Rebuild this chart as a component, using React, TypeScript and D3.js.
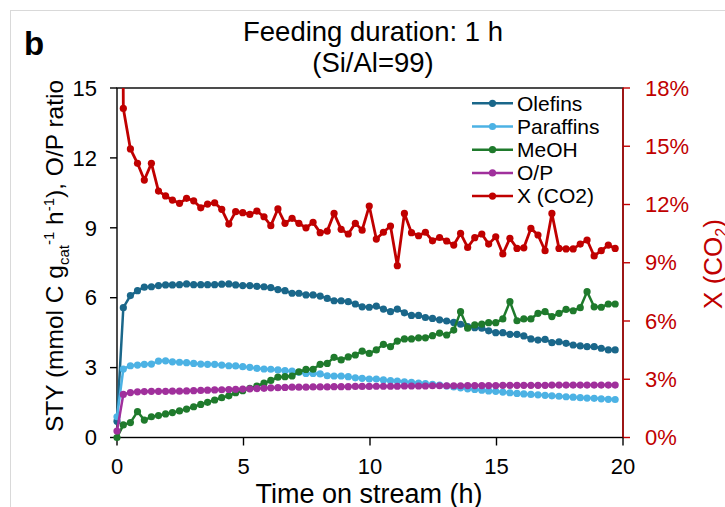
import React from "react";
import * as d3 from "d3";

const times = [0, 0.25, 0.53, 0.81, 1.08, 1.36, 1.64, 1.92, 2.19, 2.47, 2.75, 3.03, 3.31, 3.58, 3.86, 4.14, 4.42, 4.69, 4.97, 5.25, 5.53, 5.81, 6.08, 6.36, 6.64, 6.92, 7.19, 7.47, 7.75, 8.03, 8.31, 8.58, 8.86, 9.14, 9.42, 9.69, 9.97, 10.25, 10.53, 10.81, 11.08, 11.36, 11.64, 11.92, 12.19, 12.47, 12.75, 13.03, 13.31, 13.58, 13.86, 14.14, 14.42, 14.69, 14.97, 15.25, 15.53, 15.81, 16.08, 16.36, 16.64, 16.92, 17.19, 17.47, 17.75, 18.03, 18.31, 18.58, 18.86, 19.14, 19.42, 19.69];

const olefins = [0.7, 5.57, 6.09, 6.3, 6.45, 6.47, 6.52, 6.55, 6.55, 6.56, 6.59, 6.56, 6.56, 6.56, 6.56, 6.58, 6.59, 6.55, 6.52, 6.52, 6.49, 6.47, 6.43, 6.35, 6.3, 6.19, 6.19, 6.12, 6.12, 6.07, 5.97, 5.87, 5.87, 5.83, 5.73, 5.61, 5.59, 5.64, 5.51, 5.4, 5.51, 5.35, 5.24, 5.24, 5.15, 5.11, 5.05, 5.0, 4.94, 4.86, 4.76, 4.71, 4.69, 4.58, 4.5, 4.5, 4.43, 4.43, 4.36, 4.23, 4.18, 4.21, 4.07, 4.11, 4.04, 3.97, 3.93, 3.9, 3.9, 3.83, 3.76, 3.76];

const paraffins = [0.89, 2.94, 3.08, 3.11, 3.14, 3.15, 3.28, 3.29, 3.25, 3.23, 3.21, 3.18, 3.15, 3.14, 3.14, 3.11, 3.08, 3.07, 3.04, 3.01, 2.97, 2.94, 2.93, 2.9, 2.87, 2.85, 2.8, 2.75, 2.75, 2.73, 2.65, 2.64, 2.64, 2.61, 2.56, 2.54, 2.51, 2.51, 2.47, 2.44, 2.42, 2.39, 2.37, 2.34, 2.31, 2.28, 2.25, 2.21, 2.17, 2.13, 2.09, 2.06, 2.03, 2.0, 1.98, 1.95, 1.92, 1.89, 1.87, 1.85, 1.83, 1.81, 1.79, 1.77, 1.75, 1.73, 1.71, 1.69, 1.68, 1.66, 1.64, 1.63];

const meoh = [0.0, 0.54, 0.64, 1.11, 0.75, 0.89, 0.94, 1.01, 1.07, 1.14, 1.22, 1.32, 1.42, 1.51, 1.61, 1.71, 1.79, 1.92, 2.01, 2.11, 2.21, 2.33, 2.45, 2.59, 2.61, 2.64, 2.82, 2.92, 2.93, 3.14, 3.18, 3.44, 3.33, 3.46, 3.54, 3.71, 3.61, 3.76, 4.0, 3.9, 4.14, 4.23, 4.23, 4.28, 4.28, 4.37, 4.48, 4.4, 4.61, 5.4, 4.69, 4.83, 4.87, 4.93, 4.93, 5.09, 5.83, 5.01, 5.09, 5.09, 5.33, 5.4, 5.19, 5.33, 5.5, 5.44, 5.57, 6.26, 5.61, 5.59, 5.73, 5.73];

const opRatio = [0.28, 1.85, 1.93, 1.96, 1.97, 1.98, 1.98, 1.98, 1.99, 1.99, 2.0, 2.01, 2.02, 2.03, 2.04, 2.05, 2.06, 2.07, 2.08, 2.09, 2.1, 2.11, 2.13, 2.14, 2.15, 2.16, 2.16, 2.16, 2.17, 2.17, 2.17, 2.18, 2.18, 2.18, 2.19, 2.19, 2.19, 2.2, 2.2, 2.2, 2.2, 2.21, 2.21, 2.21, 2.21, 2.22, 2.22, 2.22, 2.22, 2.22, 2.23, 2.23, 2.23, 2.23, 2.23, 2.24, 2.24, 2.24, 2.24, 2.24, 2.24, 2.24, 2.25, 2.25, 2.25, 2.25, 2.25, 2.25, 2.25, 2.25, 2.25, 2.25];

const xco2 = [90, 16.95, 14.86, 14.12, 13.26, 14.12, 12.69, 12.44, 12.23, 12.06, 12.32, 12.19, 11.83, 12.02, 12.09, 11.75, 10.99, 11.63, 11.58, 11.49, 11.66, 11.37, 10.91, 11.77, 11.03, 11.29, 11.03, 10.8, 11.08, 10.55, 10.63, 11.54, 10.72, 10.48, 11.03, 10.68, 11.92, 10.22, 10.57, 10.89, 8.85, 11.54, 10.55, 10.39, 10.57, 10.13, 10.3, 10.12, 9.91, 10.51, 9.79, 10.29, 10.48, 9.96, 10.34, 9.45, 10.26, 9.74, 9.77, 10.77, 10.43, 9.62, 11.54, 9.74, 9.71, 9.71, 9.96, 10.17, 9.35, 9.62, 9.91, 9.74];

const xTicks = [0, 5, 10, 15, 20];
const yLeftTicks = [0, 3, 6, 9, 12, 15];
const yRightTicks = [0, 3, 6, 9, 12, 15, 18];

const FONT = "'Liberation Sans', Arial, sans-serif";

export default function App() {
  const W = 725;
  const H = 507;
  const left = 117;
  const right = 623;
  const top = 88;
  const bottom = 437.5;

  const x = d3.scaleLinear().domain([0, 20]).range([left, right]);
  const yL = d3.scaleLinear().domain([0, 15]).range([bottom, top]);
  const yR = d3.scaleLinear().domain([0, 18]).range([bottom, top]);

  const series = [
    { name: "Olefins", values: olefins, color: "#1a678a", scale: yL, width: 2.5 },
    { name: "Paraffins", values: paraffins, color: "#4cb2e4", scale: yL, width: 2.5 },
    { name: "MeOH", values: meoh, color: "#1f7a2c", scale: yL, width: 2.5 },
    { name: "O/P", values: opRatio, color: "#a0309c", scale: yL, width: 2.5 },
    { name: "X (CO2)", values: xco2, color: "#c00000", scale: yR, width: 2.8 },
  ];

  const red = "#c00000";

  return (
    <svg
      width={W}
      height={H}
      viewBox={`0 0 ${W} ${H}`}
      style={{ position: "absolute", left: 0, top: 0, background: "#fff" }}
      fontFamily={FONT}
    >
      <rect x={0} y={0} width={W} height={H} fill="#fff" />
      <rect x={10.5} y={10.5} width={740} height={520} fill="none" stroke="#d9d9d9" strokeWidth={1} />
      <defs>
        <clipPath id="plotClip">
          <rect x={0} y={top} width={W} height={H - top} />
        </clipPath>
      </defs>

      {/* panel letter */}
      <text x={24} y={55} fontSize={33} fontWeight="bold" fill="#000">b</text>

      {/* title */}
      <text x={373} y={41} fontSize={27.5} textAnchor="middle" fill="#000">Feeding duration: 1 h</text>
      <text x={373} y={72} fontSize={27.5} textAnchor="middle" fill="#000">(Si/Al=99)</text>

      {/* plot frame */}
      <rect x={left} y={top} width={right - left} height={bottom - top} fill="none" stroke="#000" strokeWidth={1.4} />
      <line x1={right} x2={right} y1={top} y2={bottom} stroke={red} strokeWidth={1.4} />

      {/* left axis ticks */}
      {yLeftTicks.map((t) => (
        <g key={"yl" + t}>
          <line x1={left - 7} x2={left} y1={yL(t)} y2={yL(t)} stroke="#000" strokeWidth={1.4} />
          <text x={97} y={yL(t)} dy="0.35em" fontSize={22} textAnchor="end" fill="#000">{t}</text>
        </g>
      ))}
      {/* right axis ticks */}
      {yRightTicks.map((t) => (
        <g key={"yr" + t}>
          <line x1={right} x2={right + 7} y1={yR(t)} y2={yR(t)} stroke={red} strokeWidth={1.4} />
          <text x={645} y={yR(t)} dy="0.35em" fontSize={22} textAnchor="start" fill={red}>{t + "%"}</text>
        </g>
      ))}
      {/* x axis ticks */}
      {xTicks.map((t) => (
        <g key={"x" + t}>
          <line x1={x(t)} x2={x(t)} y1={bottom} y2={bottom + 8} stroke="#000" strokeWidth={1.4} />
          <text x={x(t)} y={474} fontSize={22} textAnchor="middle" fill="#000">{t}</text>
        </g>
      ))}

      {/* axis titles */}
      <text x={369} y={503} fontSize={27} textAnchor="middle" fill="#000">Time on stream (h)</text>
      <text transform="translate(63,256) rotate(-90)" fontSize={24.5} textAnchor="middle" fill="#000">
        <tspan>STY (mmol C g</tspan>
        <tspan fontSize={15} dy={6}>cat</tspan>
        <tspan fontSize={15} dy={-15}>-1</tspan>
        <tspan dy={9}> h</tspan>
        <tspan fontSize={15} dy={-9}>-1</tspan>
        <tspan dy={9}>), O/P ratio</tspan>
      </text>
      <text transform="translate(722,264) rotate(-90)" fontSize={26} textAnchor="middle" fill={red}>
        <tspan>X (CO</tspan>
        <tspan fontSize={16} dy={5}>2</tspan>
        <tspan dy={-5}>)</tspan>
      </text>

      {/* series */}
      <g clipPath="url(#plotClip)">
        {series.map((s) => {
          const line = d3
            .line<number>()
            .x((_, i) => x(times[i]))
            .y((v) => s.scale(v));
          return (
            <g key={s.name}>
              <path d={line(s.values) || ""} fill="none" stroke={s.color} strokeWidth={s.width} strokeLinejoin="round" />
              {s.values.map((v, i) => (
                <circle key={i} cx={x(times[i])} cy={s.scale(v)} r={3.6} fill={s.color} />
              ))}
            </g>
          );
        })}
      </g>

      {/* legend */}
      {series.map((s, i) => {
        const ly = 103.3 + i * 23.2;
        return (
          <g key={"lg" + s.name}>
            <line x1={472} x2={513} y1={ly} y2={ly} stroke={s.color} strokeWidth={2.5} />
            <circle cx={492.5} cy={ly} r={3.6} fill={s.color} />
            <text x={517} y={ly} dy="0.35em" fontSize={21} fill="#000">{s.name}</text>
          </g>
        );
      })}
    </svg>
  );
}
